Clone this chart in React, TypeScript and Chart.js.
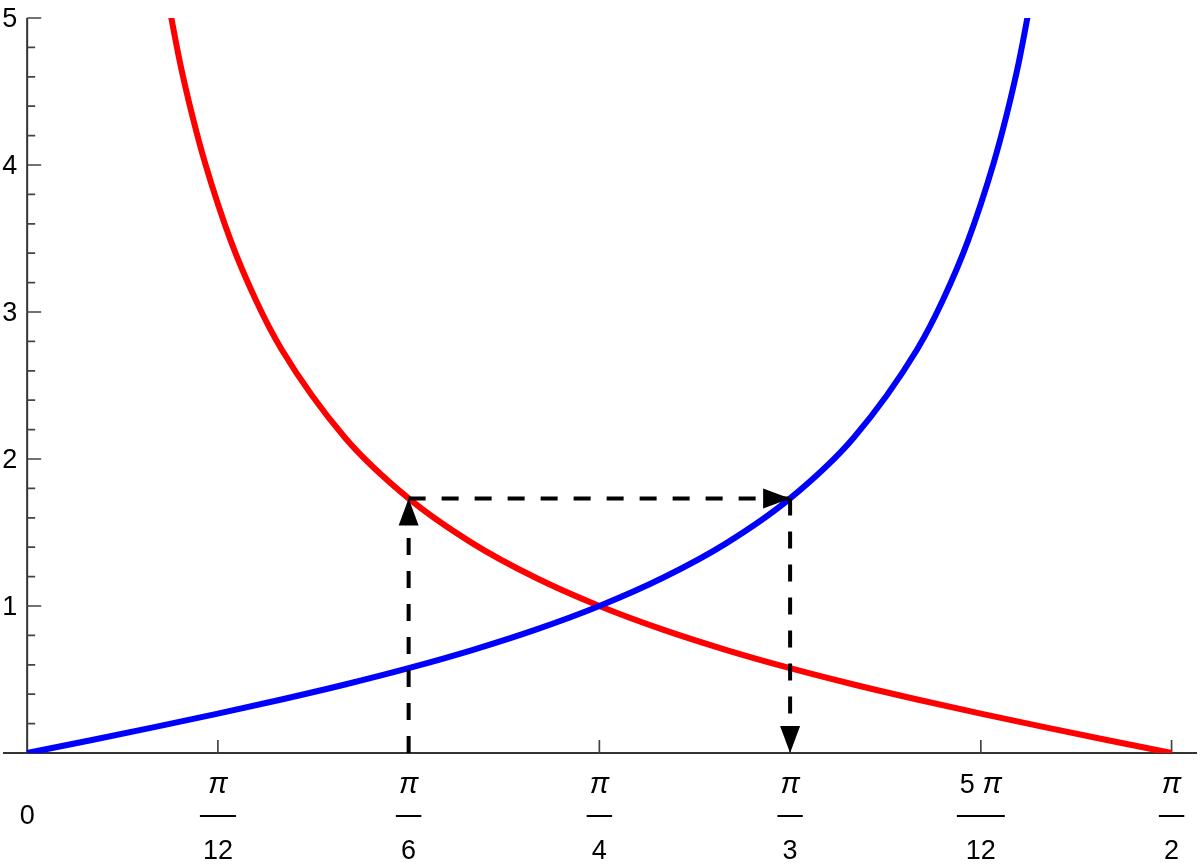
import { useEffect, useRef } from 'react'
import { Chart, registerables } from 'chart.js'
import type { Plugin } from 'chart.js'

Chart.register(...registerables)

// angles in degrees (0..90 = 0..π/2)
const tanDeg = [0, 5, 10, 15, 20, 25, 30, 35, 40, 45, 50, 55, 60, 65, 70, 72, 74, 76, 77, 78, 79.3]
const tanVal = [0, 0.087, 0.176, 0.268, 0.364, 0.466, 0.577, 0.7, 0.839, 1.0, 1.192, 1.428, 1.732, 2.145, 2.747, 3.078, 3.487, 4.011, 4.331, 4.705, 5.3]

const cotDeg = [10.7, 12, 13, 14, 16, 18, 20, 25, 30, 35, 40, 45, 50, 55, 60, 65, 70, 75, 80, 85, 90]
const cotVal = [5.3, 4.705, 4.331, 4.011, 3.487, 3.078, 2.747, 2.145, 1.732, 1.428, 1.192, 1.0, 0.839, 0.7, 0.577, 0.466, 0.364, 0.268, 0.176, 0.087, 0]

// dashed arrows: up at π/6, across to π/3, down to the axis
const arrowUpX = [30, 30]
const arrowUpY = [0, 1.732]
const arrowAcrossX = [30, 60]
const arrowAcrossY = [1.732, 1.732]
const arrowDownX = [60, 60]
const arrowDownY = [1.732, 0]

const yMajorTicks = [1, 2, 3, 4, 5]
const yMinorTicks = [0.2, 0.4, 0.6, 0.8, 1.2, 1.4, 1.6, 1.8, 2.2, 2.4, 2.6, 2.8, 3.2, 3.4, 3.6, 3.8, 4.2, 4.4, 4.6, 4.8]

const xTickDeg = [15, 30, 45, 60, 75, 90]
const xTickCoef = ['', '', '', '', '5', '']
const xTickDen = ['12', '6', '4', '3', '12', '2']

const FONT = '"Liberation Sans", Arial, sans-serif'
const FONT_SIZE = 27

const toPoints = (xs: number[], ys: number[]) => xs.map((x, i) => ({ x, y: ys[i] }))

const axesPlugin: Plugin<'line'> = {
  id: 'mmaAxes',
  beforeDatasetsDraw(chart) {
    const { ctx, chartArea, scales } = chart
    const xs = scales.x
    const ys = scales.y
    const x0 = xs.getPixelForValue(0)
    const y0 = ys.getPixelForValue(0)

    ctx.save()
    ctx.strokeStyle = '#333'
    ctx.lineWidth = 2
    ctx.beginPath()
    ctx.moveTo(chartArea.left, y0)
    ctx.lineTo(chartArea.right, y0)
    ctx.moveTo(x0, y0)
    ctx.lineTo(x0, ys.getPixelForValue(5))
    ctx.stroke()

    // ticks point inward, like Mathematica
    ctx.lineWidth = 1.7
    ctx.strokeStyle = '#444'
    ctx.beginPath()
    yMajorTicks.forEach(v => {
      const py = ys.getPixelForValue(v)
      ctx.moveTo(x0, py)
      ctx.lineTo(x0 + 14, py)
    })
    yMinorTicks.forEach(v => {
      const py = ys.getPixelForValue(v)
      ctx.moveTo(x0, py)
      ctx.lineTo(x0 + 8, py)
    })
    xTickDeg.forEach(v => {
      const px = xs.getPixelForValue(v)
      ctx.moveTo(px, y0)
      ctx.lineTo(px, y0 - 13)
    })
    ctx.stroke()

    ctx.fillStyle = '#000'
    ctx.font = `${FONT_SIZE}px ${FONT}`
    ctx.textAlign = 'right'
    ctx.textBaseline = 'middle'
    yMajorTicks.forEach(v => {
      ctx.fillText(String(v), x0 - 10, ys.getPixelForValue(v) + 2)
    })

    ctx.textAlign = 'center'
    ctx.fillText('0', x0, y0 + 64)

    const italic = `italic ${FONT_SIZE + 2}px ${FONT}`
    const plain = `${FONT_SIZE}px ${FONT}`
    xTickDeg.forEach((v, i) => {
      const px = xs.getPixelForValue(v)
      ctx.font = italic
      const piW = ctx.measureText('π').width
      ctx.font = plain
      const coef = xTickCoef[i] ? xTickCoef[i] + ' ' : ''
      const coefW = ctx.measureText(coef).width
      const denW = ctx.measureText(xTickDen[i]).width
      const numW = coefW + piW
      const left = px - numW / 2
      ctx.textAlign = 'left'
      if (coef) ctx.fillText(coef, left, y0 + 33)
      ctx.font = italic
      ctx.fillText('π', left + coefW, y0 + 32)
      ctx.font = plain
      ctx.textAlign = 'center'
      ctx.fillText(xTickDen[i], px, y0 + 99)
      const barW = Math.max(numW, denW) + 6
      ctx.fillRect(px - barW / 2, y0 + 62, barW, 2)
    })
    ctx.restore()
  },
  afterDatasetsDraw(chart) {
    const { ctx } = chart
    ctx.save()
    ctx.fillStyle = '#000'
    ;[0, 1, 2].forEach(i => {
      const pts = chart.getDatasetMeta(i).data
      const a = pts[pts.length - 2]
      const b = pts[pts.length - 1]
      const ang = Math.atan2(b.y - a.y, b.x - a.x)
      const len = 27
      const half = 10
      ctx.save()
      ctx.translate(b.x, b.y)
      ctx.rotate(ang)
      ctx.beginPath()
      ctx.moveTo(0, 0)
      ctx.lineTo(-len, -half)
      ctx.lineTo(-len, half)
      ctx.closePath()
      ctx.fill()
      ctx.restore()
    })
    ctx.restore()
  },
}

export default function App() {
  const canvasRef = useRef<HTMLCanvasElement>(null)

  useEffect(() => {
    document.body.style.margin = '0'
    if (!canvasRef.current) return

    const dashed = {
      borderColor: '#000',
      borderWidth: 4,
      borderDash: [17, 16],
      pointRadius: 0,
      tension: 0,
      clip: false as const,
    }

    const chart = new Chart(canvasRef.current, {
      type: 'line',
      data: {
        datasets: [
          { ...dashed, data: toPoints(arrowUpX, arrowUpY) },
          { ...dashed, data: toPoints(arrowAcrossX, arrowAcrossY) },
          { ...dashed, data: toPoints(arrowDownX, arrowDownY) },
          {
            data: toPoints(tanDeg, tanVal),
            borderColor: '#0000ff',
            borderWidth: 6,
            pointRadius: 0,
            cubicInterpolationMode: 'monotone',
            clip: 0,
          },
          {
            data: toPoints(cotDeg, cotVal),
            borderColor: '#ff0000',
            borderWidth: 6,
            pointRadius: 0,
            cubicInterpolationMode: 'monotone',
            clip: 0,
          },
        ],
      },
      options: {
        animation: false,
        responsive: true,
        maintainAspectRatio: false,
        layout: { padding: { left: 3, right: 5, top: 18, bottom: 115 } },
        scales: {
          x: { type: 'linear', min: -1.9, max: 92, display: false },
          y: { type: 'linear', min: 0, max: 5, display: false },
        },
        plugins: {
          legend: { display: false },
          tooltip: { enabled: false },
        },
      },
      plugins: [axesPlugin],
    })

    return () => {
      chart.destroy()
    }
  }, [])

  return (
    <div style={{ position: 'relative', width: 1202, height: 868 }}>
      <canvas ref={canvasRef} />
    </div>
  )
}
